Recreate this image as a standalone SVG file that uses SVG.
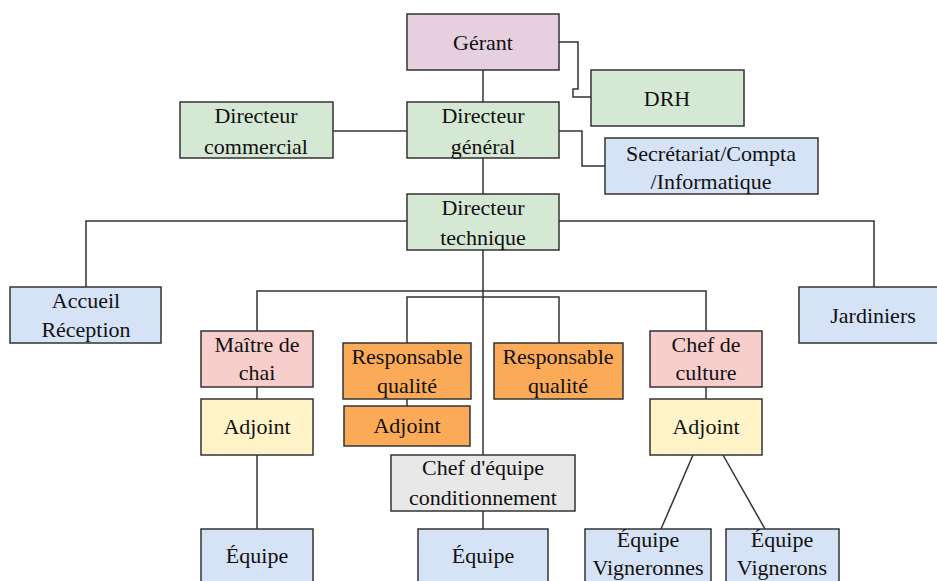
<svg xmlns="http://www.w3.org/2000/svg" width="937" height="581" viewBox="0 0 937 581">
<style>
.b{stroke:#333;stroke-width:1.5}
.c{fill:none;stroke:#333;stroke-width:1.5}
text{font-family:"Liberation Serif","DejaVu Serif",serif;font-size:22px;fill:#111;text-anchor:middle}
.mauve{fill:#e6d0de}.green{fill:#d5e8d4}.blue{fill:#d6e3f6}.pink{fill:#f8cecc}.yellow{fill:#fff4c8}.orange{fill:#fbab58}.gray{fill:#e8e8e8}
</style>
<rect width="937" height="581" fill="#fff"/>
<g id="connectors">
<path class="c" d="M483,70 V102"/>
<path class="c" d="M559,42 H578 V89 H573 V97 H591"/>
<path class="c" d="M333,131 H407"/>
<path class="c" d="M559,131 H582 V166 H605"/>
<path class="c" d="M483,158 V194"/>
<path class="c" d="M86,287 V221 H874 V287"/>
<path class="c" d="M483,250 V455"/>
<path class="c" d="M257,331 V291 H706 V331"/>
<path class="c" d="M407,343 V297 H559 V343"/>
<path class="c" d="M257,387 V399"/>
<path class="c" d="M257,455 V529"/>
<path class="c" d="M407,399 V406"/>
<path class="c" d="M706,387 V399"/>
<path class="c" d="M693,455 L661,529"/>
<path class="c" d="M723,455 L765,529"/>
<path class="c" d="M483,511 V529"/>
</g>
<g id="gerant"><rect class="b mauve" x="407" y="14" width="152" height="56"/><text x="483" y="50">Gérant</text></g>
<g id="drh"><rect class="b green" x="591" y="70" width="153" height="56"/><text x="667" y="106">DRH</text></g>
<g id="dir-commercial"><rect class="b green" x="180" y="102" width="153" height="56"/><text x="256" y="123">Directeur</text><text x="256" y="154">commercial</text></g>
<g id="dir-general"><rect class="b green" x="407" y="102" width="152" height="56"/><text x="483" y="123">Directeur</text><text x="483" y="154">général</text></g>
<g id="secretariat"><rect class="b blue" x="605" y="138" width="213" height="56"/><text x="711" y="161">Secrétariat/Compta</text><text x="711" y="189">/Informatique</text></g>
<g id="dir-technique"><rect class="b green" x="407" y="194" width="152" height="56"/><text x="483" y="215">Directeur</text><text x="483" y="245">technique</text></g>
<g id="accueil"><rect class="b blue" x="10" y="287" width="151" height="56"/><text x="86" y="308">Accueil</text><text x="86" y="337">Réception</text></g>
<g id="jardiniers"><rect class="b blue" x="799" y="287" width="145" height="56"/><text x="873" y="323">Jardiniers</text></g>
<g id="maitre-chai"><rect class="b pink" x="201" y="331" width="112" height="56"/><text x="257" y="352">Maître de</text><text x="257" y="380">chai</text></g>
<g id="adjoint-chai"><rect class="b yellow" x="201" y="399" width="112" height="56"/><text x="257" y="434">Adjoint</text></g>
<g id="resp-qualite-1"><rect class="b orange" x="343" y="343" width="128" height="56"/><text x="407" y="364">Responsable</text><text x="407" y="393">qualité</text></g>
<g id="adjoint-qualite"><rect class="b orange" x="344" y="406" width="126" height="40"/><text x="407" y="433">Adjoint</text></g>
<g id="resp-qualite-2"><rect class="b orange" x="494" y="343" width="129" height="56"/><text x="558" y="364">Responsable</text><text x="558" y="393">qualité</text></g>
<g id="chef-culture"><rect class="b pink" x="650" y="331" width="112" height="56"/><text x="706" y="352">Chef de</text><text x="706" y="380">culture</text></g>
<g id="adjoint-culture"><rect class="b yellow" x="650" y="399" width="112" height="56"/><text x="706" y="434">Adjoint</text></g>
<g id="chef-conditionnement"><rect class="b gray" x="391" y="455" width="184" height="56"/><text x="483" y="475">Chef d'équipe</text><text x="483" y="505">conditionnement</text></g>
<g id="equipe-chai"><rect class="b blue" x="201" y="529" width="112" height="60"/><text x="257" y="563">Équipe</text></g>
<g id="equipe-cond"><rect class="b blue" x="418" y="529" width="130" height="60"/><text x="483" y="563">Équipe</text></g>
<g id="equipe-vigneronnes"><rect class="b blue" x="585" y="529" width="126" height="60"/><text x="648" y="547">Équipe</text><text x="648" y="575">Vigneronnes</text></g>
<g id="equipe-vignerons"><rect class="b blue" x="726" y="529" width="113" height="60"/><text x="782" y="547">Équipe</text><text x="782" y="575">Vignerons</text></g>
</svg>
